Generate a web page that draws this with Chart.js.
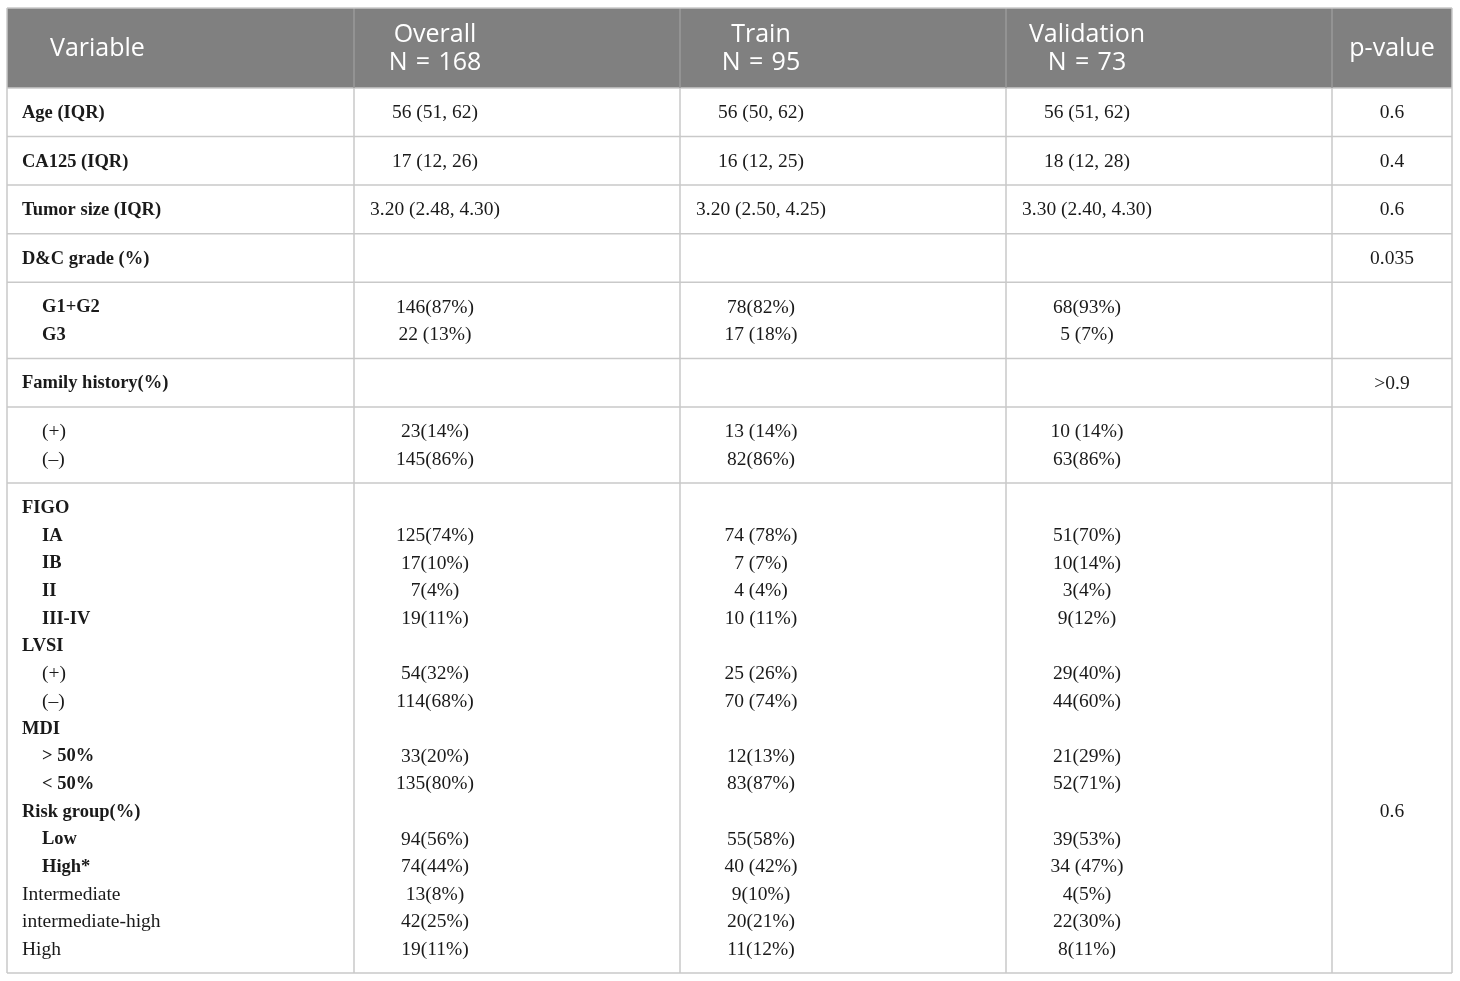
<!DOCTYPE html>
<html>
<head>
<meta charset="utf-8">
<title>Baseline characteristics</title>
<script src="https://cdn.jsdelivr.net/npm/chart.js@4.4.1/dist/chart.umd.min.js"></script>
<style>
    html, body { margin: 0; padding: 0; background: #fff; }
    #wrap { position: relative; width: 1460px; height: 981px; }
</style>
</head>
<body>
<div id="wrap"><canvas id="tableChart"></canvas></div>
<script>
// table content
const columnTitles = ['Variable', 'Overall', 'Train', 'Validation', 'p-value'];
const columnCounts = [null, 168, 95, 73, null];

const variables = [
    'Age (IQR)', 'CA125 (IQR)', 'Tumor size (IQR)', 'D&C grade (%)',
    'G1+G2', 'G3', 'Family history(%)', '(+)', '(–)',
    'FIGO', 'IA', 'IB', 'II', 'III-IV', 'LVSI', '(+)', '(–)',
    'MDI', '> 50%', '< 50%', 'Risk group(%)', 'Low', 'High*',
    'Intermediate', 'intermediate-high', 'High'
];
const overall = [
    '56 (51, 62)', '17 (12, 26)', '3.20 (2.48, 4.30)', '',
    '146(87%)', '22 (13%)', '', '23(14%)', '145(86%)',
    '', '125(74%)', '17(10%)', '7(4%)', '19(11%)', '', '54(32%)', '114(68%)',
    '', '33(20%)', '135(80%)', '', '94(56%)', '74(44%)',
    '13(8%)', '42(25%)', '19(11%)'
];
const train = [
    '56 (50, 62)', '16 (12, 25)', '3.20 (2.50, 4.25)', '',
    '78(82%)', '17 (18%)', '', '13 (14%)', '82(86%)',
    '', '74 (78%)', '7 (7%)', '4 (4%)', '10 (11%)', '', '25 (26%)', '70 (74%)',
    '', '12(13%)', '83(87%)', '', '55(58%)', '40 (42%)',
    '9(10%)', '20(21%)', '11(12%)'
];
const validation = [
    '56 (51, 62)', '18 (12, 28)', '3.30 (2.40, 4.30)', '',
    '68(93%)', '5 (7%)', '', '10 (14%)', '63(86%)',
    '', '51(70%)', '10(14%)', '3(4%)', '9(12%)', '', '29(40%)', '44(60%)',
    '', '21(29%)', '52(71%)', '', '39(53%)', '34 (47%)',
    '4(5%)', '22(30%)', '8(11%)'
];
const pValues = [
    '0.6', '0.4', '0.6', '0.035',
    '', '', '>0.9', '', '',
    '', '', '', '', '', '', '', '',
    '', '', '', '0.6', '', '',
    '', '', ''
];
// how many text lines each bordered row holds
const groupSizes = [1, 1, 1, 1, 2, 1, 2, 17];

// label styling
const indentedLabels = ['G1+G2', 'G3', '(+)', '(–)', 'IA', 'IB', 'II', 'III-IV', '> 50%', '< 50%', 'Low', 'High*'];
const plainLabels = ['(+)', '(–)', 'Intermediate', 'intermediate-high', 'High'];

// layout in table units
const colWidths = [347, 326, 326, 326, 120];
const headerHeight = 80;
const lineHeight = 27.6;
const cellPad = 10.5;
const bodyFont = '"Liberation Serif", "Times New Roman", serif';
const headFont = '"Open Sans", "Noto Sans", sans-serif';

const colEdges = colWidths.reduce((acc, w) => { acc.push(acc[acc.length - 1] + w); return acc; }, [0]);
const tableWidth = colEdges[colEdges.length - 1];
const groupEdges = groupSizes.reduce((acc, n) => {
    acc.push(acc[acc.length - 1] + n * lineHeight + 2 * cellPad);
    return acc;
}, [headerHeight]);
const tableHeight = groupEdges[groupEdges.length - 1];

function lineCenters() {
    const centers = [];
    groupSizes.forEach((n, g) => {
        for (let i = 0; i < n; i++) {
            centers.push(groupEdges[g] + cellPad + lineHeight * (i + 0.5));
        }
    });
    return centers;
}

const tablePlugin = {
    id: 'tableCells',
    afterDraw(chart) {
        const { ctx, scales: { x, y } } = chart;
        const px = v => x.getPixelForValue(v);
        const py = v => y.getPixelForValue(v);
        ctx.save();

        // header
        ctx.fillStyle = '#808080';
        ctx.fillRect(px(0), py(0), px(tableWidth) - px(0), py(headerHeight) - py(0));

        // grid
        ctx.lineWidth = 1.5;
        ctx.strokeStyle = '#c9c9c9';
        groupEdges.forEach(v => {
            ctx.beginPath();
            ctx.moveTo(px(0), py(v));
            ctx.lineTo(px(tableWidth), py(v));
            ctx.stroke();
        });
        colEdges.forEach((c, i) => {
            ctx.beginPath();
            ctx.strokeStyle = '#c9c9c9';
            ctx.moveTo(px(c), py(headerHeight));
            ctx.lineTo(px(c), py(tableHeight));
            ctx.stroke();
            ctx.beginPath();
            ctx.strokeStyle = (i === 0 || i === colEdges.length - 1) ? '#c9c9c9' : '#9a9a9a';
            ctx.moveTo(px(c), py(0));
            ctx.lineTo(px(c), py(headerHeight));
            ctx.stroke();
        });
        ctx.strokeStyle = '#c9c9c9';
        ctx.beginPath();
        ctx.moveTo(px(0), py(0));
        ctx.lineTo(px(tableWidth), py(0));
        ctx.stroke();

        // header text
        ctx.fillStyle = '#ffffff';
        ctx.textBaseline = 'middle';
        ctx.font = '25px ' + headFont;
        ctx.textAlign = 'left';
        ctx.fillText(columnTitles[0], px(43), py(headerHeight / 2 + 1));
        ctx.textAlign = 'center';
        for (let c = 1; c < columnTitles.length; c++) {
            const cx = c === columnTitles.length - 1 ? colEdges[c] + colWidths[c] / 2 : colEdges[c] + 81;
            if (columnCounts[c] === null) {
                ctx.fillText(columnTitles[c], px(cx), py(headerHeight / 2 + 1));
            } else {
                ctx.fillText(columnTitles[c], px(cx), py(headerHeight / 2 - 13));
                ctx.fillText('N\u2004=\u2004' + columnCounts[c], px(cx), py(headerHeight / 2 + 15));
            }
        }

        // body text
        const centers = lineCenters();
        const valueCols = [overall, train, validation];
        ctx.fillStyle = '#1a1a1a';
        variables.forEach((label, i) => {
            const cy = py(centers[i] + 1);
            const bold = !plainLabels.includes(label);
            ctx.font = bold ? 'bold 18.5px ' + bodyFont : '19.5px ' + bodyFont;
            ctx.textAlign = 'left';
            ctx.fillText(label, px(indentedLabels.includes(label) ? 35 : 15), cy);

            ctx.font = '19.5px ' + bodyFont;
            ctx.textAlign = 'center';
            valueCols.forEach((col, k) => {
                if (col[i]) ctx.fillText(col[i], px(colEdges[k + 1] + 81), cy);
            });
            if (pValues[i]) ctx.fillText(pValues[i], px(colEdges[4] + colWidths[4] / 2), cy);
        });

        ctx.restore();
    }
};

document.addEventListener('DOMContentLoaded', () => {
    const ctx = document.getElementById('tableChart').getContext('2d');
    new Chart(ctx, {
        type: 'scatter',
        data: { datasets: [{ data: [], pointRadius: 0 }] },
        options: {
            responsive: true,
            maintainAspectRatio: false,
            animation: false,
            layout: { padding: { left: 7, top: 8, right: 8, bottom: 8 } },
            plugins: { legend: { display: false }, tooltip: { enabled: false } },
            scales: {
                x: { type: 'linear', min: 0, max: tableWidth, display: false },
                y: { type: 'linear', min: 0, max: tableHeight, reverse: true, display: false }
            }
        },
        plugins: [tablePlugin]
    });
});
</script>
</body>
</html>
